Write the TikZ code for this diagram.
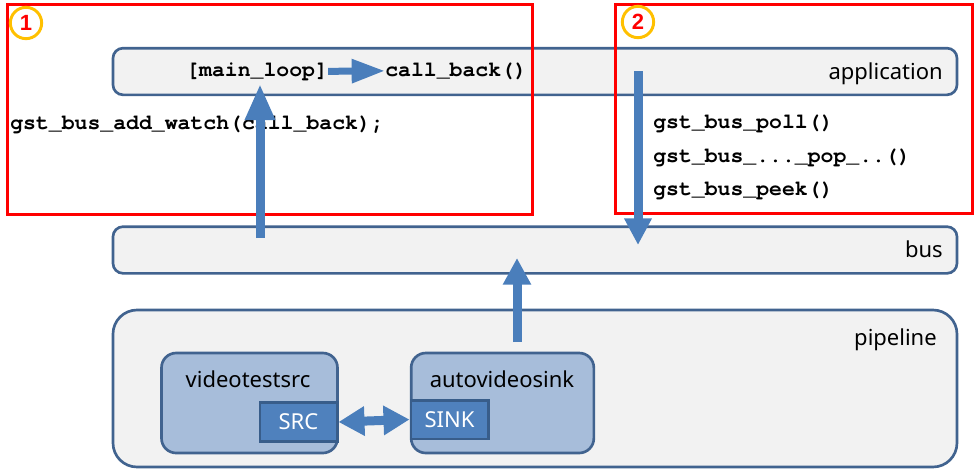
\documentclass[tikz,border=0pt]{standalone}
\usepackage{fontspec}
\setmainfont{Noto Sans}
\setmonofont{texgyrecursor}[Extension=.otf, UprightFont=*-regular, BoldFont=*-bold]
\newfontfamily\ringfont{Liberation Sans}
\usetikzlibrary{arrows.meta, positioning}

\definecolor{barfill}{HTML}{F2F2F2}
\definecolor{barline}{HTML}{41638F}
\definecolor{elemfill}{HTML}{A7BDDA}
\definecolor{padfill}{HTML}{4F81BD}
\definecolor{padline}{HTML}{385D8A}
\definecolor{arrowblue}{HTML}{4A7EBB}
\definecolor{ringorange}{HTML}{FFC000}

\begin{document}
\begin{tikzpicture}[
                x=0.75pt, y=-0.75pt,
                bar/.style={draw=barline, fill=barfill, line width=2pt, rectangle, rounded corners=7.5pt, minimum width=633pt, minimum height=35pt},
                elem/.style={draw=barline, fill=elemfill, line width=2pt, rounded corners=11pt, minimum width=132pt, minimum height=75pt},
                pad/.style={draw=padline, fill=padfill, line width=2pt, minimum width=58pt, minimum height=29pt, inner sep=0pt, text=white, font=\fontsize{16.5}{20}\selectfont},
                title/.style={inner sep=0pt, font=\fontsize{16.5}{20}\selectfont},
                code/.style={inner sep=0pt, anchor=base west, font=\fontsize{16.1}{19}\selectfont\ttfamily\bfseries},
                frame/.style={draw=red, line width=2.25pt},
                ring/.style={circle, draw=ringorange, line width=2.2pt, minimum size=23.5pt, inner sep=0pt, text=red, font=\fontsize{16.5}{18}\ringfont\bfseries},
                arrow/.style={draw=arrowblue, line width=6.75pt, -{Triangle[length=20pt, width=20pt]}}]
            \useasboundingbox (0,0) rectangle (976,469);

            % Couches
            \node[bar] (app) at (535,71.5) {};
            \node[bar] (bus) at (535,250) {};
            \node[bar, minimum height=117.75pt, rounded corners=18pt] (pipe) at (535,388.5) {};
            \node[elem] (vts) at (249.5,403) {};
            \node[elem, minimum width=137pt] (avs) at (502.5,403) {};
            \node[pad] (src) at (298.5,422) {SRC};
            \node[pad] (sink) at (449.5,419.5) {SINK};

            % Cadres 1 et 2
            \draw[frame] (7.5,4.5) rectangle (532,214);
            \draw[frame] (615,4.5) rectangle (972,213.5);
            \node[ring] (one) at (26,23) {1};
            \node[ring] (two) at (638,22) {2};

            % Textes
            \node[title, anchor=base east] (applbl) at (943,79) {application};
            \node[title, anchor=base east] (buslbl) at (943,257) {bus};
            \node[title, anchor=base east] (pipelbl) at (937,345) {pipeline};
            \node[title, anchor=base] (vtslbl) at (248,387) {videotestsrc};
            \node[title, anchor=base] (avslbl) at (502,387) {autovideosink};

            \node[code] (mainloop) at (186,76) {[main\_loop]};
            \node[code] (callback) at (385,76) {call\_back()};
            \node[code] (addwatch) at (10,129) {gst\_bus\_add\_watch(call\_back);};
            \node[code] (poll) at (653,128) {gst\_bus\_poll()};
            \node[code] (pop) at (653,162) {gst\_bus\_...\_pop\_..()};
            \node[code] (peek) at (653,195) {gst\_bus\_peek()};

            % Flèches
            \coordinate (watchtail) at (260,238);
            \coordinate (watchtip) at (260,84);
            \coordinate (polltail) at (638,71);
            \coordinate (polltip) at (638,245);
            \coordinate (msgtail) at (517,342);
            \coordinate (msgtip) at (517,258);

            \draw[arrow, line width=5.25pt, -{Triangle[length=25pt, width=17pt]}] (mainloop.east) -- (callback.west);
            \draw[arrow, -{Triangle[length=27pt, width=21pt]}] (watchtail) -- (watchtip);
            \draw[arrow, -{Triangle[length=20pt, width=19.5pt]}] (polltail) -- (polltip);
            \draw[arrow] (msgtail) -- (msgtip);
            \draw[arrow, {Triangle[length=19.5pt, width=21pt]}-{Triangle[length=19.5pt, width=21pt]}] (src.east) -- (sink.west);

        \end{tikzpicture}
\end{document}
